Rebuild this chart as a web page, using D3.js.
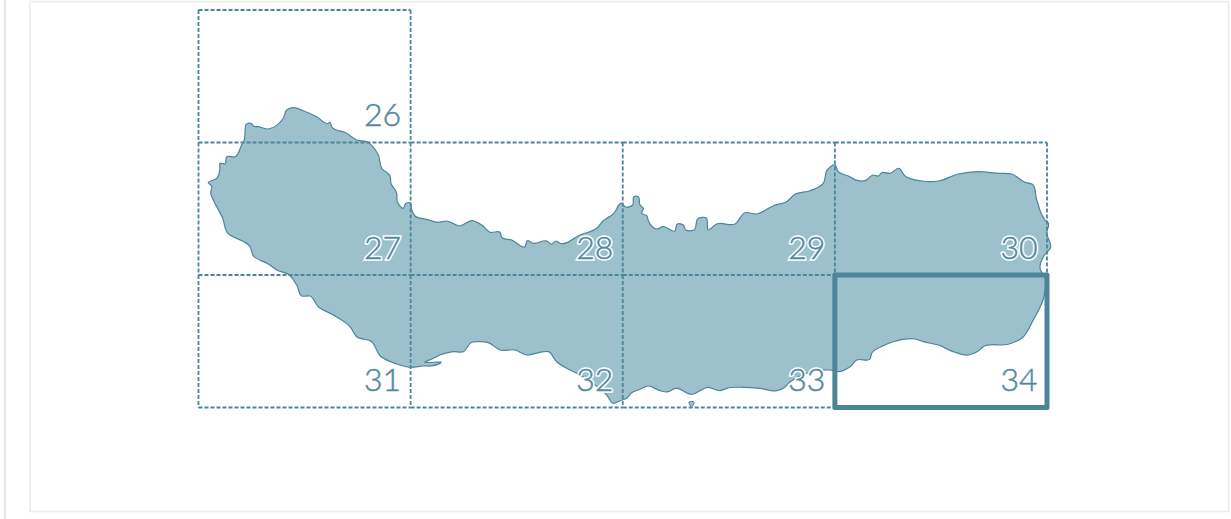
<!DOCTYPE html>
<html>
<head>
<meta charset="utf-8">
<script src="https://cdn.jsdelivr.net/npm/d3@7"></script>
<style>
  html, body { margin: 0; padding: 0; background: #fff; overflow: hidden; }
  svg { display: block; }
  .sheet-label { font-family: Lato, "Open Sans", sans-serif; font-weight: 300; font-size: 32px; }
</style>
</head>
<body>
<svg id="chart" width="1231" height="519"></svg>
<script>
// sheet numbers, column and row of each sheet in the index grid
const sheets = [26, 27, 28, 29, 30, 31, 32, 33, 34];
const sheetCols = [0, 0, 1, 2, 3, 0, 1, 2, 3];
const sheetRows = [0, 1, 1, 1, 1, 2, 2, 2, 2];
const selectedSheet = 34;

// coastline, in map units, clockwise from the west tip
const coastX = [208.3,216.7,220,220,225,226.7,235,241.7,244.3,245,246.7,251,253.3,258.3,268.3,283.3,286.7,293.3,303.3,316.7,328.3,330,331.7,346.7,356.7,366.7,378.3,381.7,390,391,396.7,397.3,403.3,406,410,411.7,415,426.7,438.3,446.7,460,471.7,481.7,490,500,501.7,511.7,525,527.3,533.3,546.7,551.7,556,560,580,596.7,603.3,613.3,621.7,625,632.7,634,638.3,640,643.3,641.7,646.7,648.3,656.7,663.3,675,677.3,683.3,685.7,694,698.3,706,708.3,716.7,735,745,756.7,773.3,786.7,795,810,823.3,827.3,835,838.3,848.3,858.3,865,873.3,878.3,881.7,890,899,905,921.7,938.3,958.3,978.3,998.3,1011.7,1025,1032.3,1036.7,1046.7,1048,1046.7,1050.7,1043.3,1040,1045,1044,1033.3,1021.7,1008.3,983.3,978.3,968.3,955,938.3,923.3,915,893.3,883.3,871.7,870,856.7,850,838.3,830,815,800,790,783.3,776.7,760,743.3,726.7,720,708.3,691.7,675,668.3,660,648.3,640,631.7,626.7,620,613.3,606.7,595,580,566.7,556.7,548.3,540,526.7,515,500,488.3,480,471.7,463.3,453.3,440,433.3,425,441,433.3,423.3,410,396.7,380,371.7,356.7,350,333.3,318.3,310,301.7,296.7,288.3,276.7,268.3,253.3,250,226.7,222.7,213.3,210.7,211.7];
const coastY = [182.7,178.3,168.3,163.3,164,156.7,156.7,145,140,133.3,124,123.3,126,126.7,129,118.3,110,107.7,110.7,116.7,123.3,122.3,126.7,133.3,140,141.7,155,168.3,176,183.3,193.3,201.7,208.3,203.3,202.7,210,216,219.3,222.3,221,226,220.7,225,232.3,232.3,237.3,240,246.7,240.7,243.3,241,244.3,241,243.3,235,228.3,220.7,214,203.3,206.7,205,196.7,196.7,205,208.3,213.3,215.7,220.7,229,226.7,231,224,225,230,230,218.3,217.7,230,224,224,212.7,214,205.7,201.7,194.3,190.7,183.3,170,165,171.7,176,180.7,180.7,175,176,172.7,173.3,168.3,176,181,181,174,171.7,173.3,174,182.3,184.3,200,221.7,222.7,233,247.3,256.7,268.3,278.3,296.7,320,338.3,344.3,346.7,351,355,352.3,345,341.7,339,341.7,345.7,353.3,359,360,366.7,371.7,370,371,376,382,388.3,390.7,388.3,387.3,388.3,390.7,387.3,394.3,388.3,391.7,390.7,386,389.3,392.7,398.3,400.7,403.3,395,385,375,368.3,361.7,351.7,352.3,355,350,350,342.7,341.7,342.3,351.7,351.7,355,358.3,362,362.5,365.7,366,367.3,364,355.7,341.7,336.7,326.7,315,306.7,296,296,285,274.3,270,264,255.7,246.7,231.7,218.3,200,193.3,186];
// the small islet off the south coast
const isletX = [689, 694, 691.7];
const isletY = [402, 402, 407];

const width = 1231, height = 519;
const svg = d3.select("#chart");

const x = d3.scaleLinear().domain([0, 1231]).range([0, width]);
const y = d3.scaleLinear().domain([0, 519]).range([0, height]);
const colX = d3.scaleLinear().domain([0, 4]).range([198.5, 1047]);
const rowY = d3.scaleLinear().domain([0, 3]).range([10, 407.5]);

const teal = "#4d8499";
const land = "#9cc1cd";

// page frame
svg.append("line").attr("x1", 5).attr("x2", 5).attr("y1", 0).attr("y2", height)
  .attr("stroke", "#e9e9e9").attr("stroke-width", 2.5);
svg.append("rect").attr("x", 30).attr("y", 1.5).attr("width", 1198.5).attr("height", 510)
  .attr("fill", "#fff").attr("stroke", "#ebebeb").attr("stroke-width", 1.5);

const line = d3.line().x(d => x(d[0])).y(d => y(d[1])).curve(d3.curveCatmullRomClosed.alpha(1));

// island
svg.append("path")
  .attr("d", line(coastX.map((v, i) => [v, coastY[i]])))
  .attr("fill", land).attr("stroke", teal).attr("stroke-width", 1.2).attr("stroke-linejoin", "round");
svg.append("path")
  .attr("d", line(isletX.map((v, i) => [v, isletY[i]])))
  .attr("fill", land).attr("stroke", teal).attr("stroke-width", 1);

// dashed grid edges, shared edges only once so the dashes stay open
const edges = new Map();
sheets.forEach((s, i) => {
  const c = sheetCols[i], r = sheetRows[i];
  [[c, r, c + 1, r], [c, r + 1, c + 1, r + 1], [c, r, c, r + 1], [c + 1, r, c + 1, r + 1]]
    .forEach(e => edges.set(e.join(), e));
});
svg.selectAll("line.edge")
  .data([...edges.values()])
  .enter().append("line")
  .attr("class", "edge")
  .attr("x1", d => colX(d[0])).attr("y1", d => rowY(d[1]))
  .attr("x2", d => colX(d[2])).attr("y2", d => rowY(d[3]))
  .attr("stroke", teal).attr("stroke-width", 1.8).attr("stroke-dasharray", "4,2");

// highlighted cell
svg.selectAll("rect.selected")
  .data(sheets.filter(s => s === selectedSheet))
  .enter().append("rect")
  .attr("class", "selected")
  .attr("x", d => colX(sheetCols[sheets.indexOf(d)]))
  .attr("y", d => rowY(sheetRows[sheets.indexOf(d)]))
  .attr("width", colX(1) - colX(0))
  .attr("height", rowY(1) - rowY(0))
  .attr("fill", "none").attr("stroke", teal)
  .attr("stroke-width", 5).attr("stroke-linejoin", "round");

// sheet numbers: white halo first, then the teal figure with a hair of stroke for weight
const drawLabels = (cls, fill, stroke, strokeWidth) => svg.selectAll("text." + cls)
  .data(sheets)
  .enter().append("text")
  .attr("class", "sheet-label " + cls)
  .attr("x", d => colX(sheetCols[sheets.indexOf(d)] + 1) - 9.5)
  .attr("y", d => rowY(sheetRows[sheets.indexOf(d)] + 1) - 16.5)
  .attr("text-anchor", "end")
  .attr("fill", fill)
  .attr("stroke", stroke).attr("stroke-width", strokeWidth)
  .text(d => d);
drawLabels("halo", "#fff", "#fff", 3.5);
drawLabels("figure", "#558a9e", "#558a9e", 0.5);
</script>
</body>
</html>
